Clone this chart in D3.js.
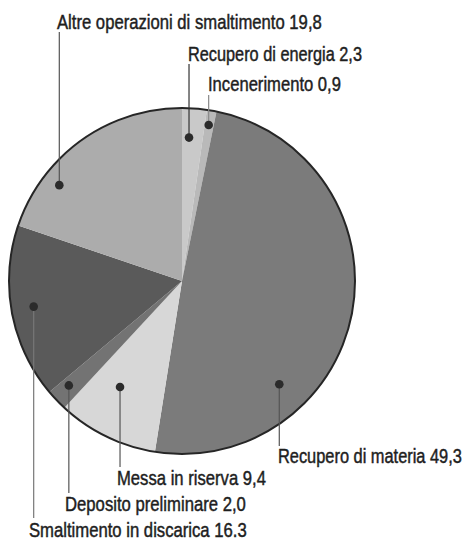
<!DOCTYPE html>
<html>
<head>
<meta charset="utf-8">
<script src="https://cdn.jsdelivr.net/npm/d3@7"></script>
<style>
  html, body { margin: 0; padding: 0; background: #fff; }
  svg { display: block; }
  text { font-family: "Liberation Sans Narrow", "Liberation Sans", Arial, sans-serif; fill: #1e1e1e; stroke: #1e1e1e; stroke-width: 0.45px; }
</style>
</head>
<body>
<svg id="chart" width="466" height="542"></svg>
<script>
// ---- data ----
const categories = [
  "Recupero di energia",
  "Incenerimento",
  "Recupero di materia",
  "Messa in riserva",
  "Deposito preliminare",
  "Smaltimento in discarica",
  "Altre operazioni di smaltimento"
];
const values = [2.3, 0.9, 49.3, 9.4, 2.0, 16.3, 19.8];
const valueLabels = ["2,3", "0,9", "49,3", "9,4", "2,0", "16.3", "19,8"];

// ---- style / layout (not data) ----
const fills = ["#c9c9c9", "#b9b9b9", "#7b7b7b", "#d7d7d7", "#737373", "#5a5a5a", "#acacac"];
const cx = 182, cy = 281, R = 173;
// label annotation layout: dot angle (deg, clockwise from top), dot radius fraction,
// text left x, text baseline y, text width, leader end y
const annot = [
  { a: 2.8,   f: 0.83, tx: 188, ty: 61,  tw: 174, ly: 64,  lc: "#333" },
  { a: 9.7,   f: 0.915, tx: 208, ty: 91, tw: 133, ly: 95,  lc: "#888" },
  { a: 136.7, f: 0.82, tx: 278, ty: 463, tw: 184, ly: 446, lc: "#555" },
  { a: 210.3, f: 0.71, tx: 117, ty: 485, tw: 149, ly: 467, lc: "#555" },
  { a: 227.3, f: 0.89, tx: 65,  ty: 511, tw: 181, ly: 493, lc: "#555" },
  { a: 260.2, f: 0.87, tx: 29,  ty: 537, tw: 218, ly: 518, lc: "#777" },
  { a: 308,   f: 0.90, tx: 57,  ty: 29,  tw: 265, ly: 32,  lc: "#555" }
];

const svg = d3.select("#chart");
const g = svg.append("g").attr("transform", `translate(${cx},${cy})`);

const pie = d3.pie().sort(null).value(d => d)(values);
const arc = d3.arc().innerRadius(0).outerRadius(R);

g.selectAll("path.slice")
  .data(pie)
  .join("path")
  .attr("class", "slice")
  .attr("d", arc)
  .attr("fill", (d, i) => fills[i]);

// outer border
g.append("circle").attr("r", R).attr("fill", "none").attr("stroke", "#262626").attr("stroke-width", 2);

// annotations
const toXY = (deg, rr) => {
  const t = deg * Math.PI / 180;
  return [cx + rr * Math.sin(t), cy - rr * Math.cos(t)];
};

annot.forEach((an, i) => {
  const [dx, dy] = toXY(an.a, an.f * R);
  svg.append("line")
    .attr("x1", dx).attr("y1", dy)
    .attr("x2", dx).attr("y2", an.ly)
    .attr("stroke", an.lc).attr("stroke-width", 1.2);
  svg.append("circle")
    .attr("cx", dx).attr("cy", dy).attr("r", 4.3)
    .attr("fill", "#2b2b2b");
  const t = svg.append("text")
    .attr("x", 0).attr("y", 0)
    .attr("font-size", 19.5)
    .text(categories[i] + " " + valueLabels[i]);
  const natural = t.node().getComputedTextLength();
  t.attr("transform", `translate(${an.tx},${an.ty}) scale(${an.tw / natural},1)`);
});
</script>
</body>
</html>
